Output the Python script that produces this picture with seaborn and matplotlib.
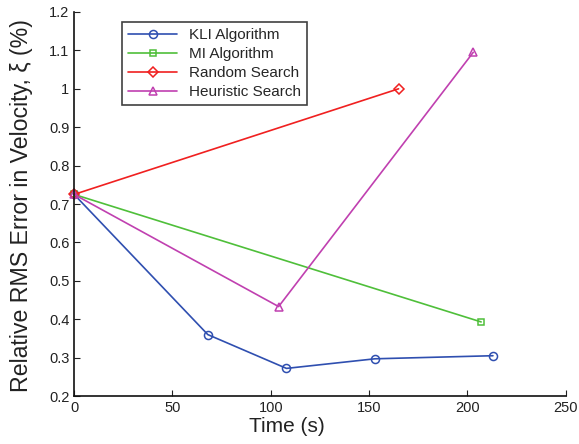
import pandas as pd
import matplotlib.pyplot as plt
import seaborn as sns

# Series values
kli_time = [0, 68, 108, 153, 213]
kli_err = [0.725, 0.36, 0.272, 0.297, 0.305]
mi_time = [0, 207]
mi_err = [0.725, 0.393]
rand_time = [0, 165]
rand_err = [0.725, 1.0]
heur_time = [0, 104, 203]
heur_err = [0.725, 0.433, 1.095]

series = [
    ("KLI Algorithm", kli_time, kli_err, "#2f4fb0", "o", 5.8),
    ("MI Algorithm", mi_time, mi_err, "#4fbf3a", "s", 4.6),
    ("Random Search", rand_time, rand_err, "#f02020", "D", 4.6),
    ("Heuristic Search", heur_time, heur_err, "#c040b0", "^", 6.2),
]

sns.set_style("ticks")
plt.rcParams['font.family'] = ['Liberation Sans', 'DejaVu Sans']

fig, ax = plt.subplots(figsize=(5.79, 4.44), dpi=100)
fig.subplots_adjust(left=0.128, right=0.977, top=0.973, bottom=0.108)

for name, t, e, color, mk, ms in series:
    df = pd.DataFrame({"Time": t, "Err": e})
    sns.lineplot(data=df, x="Time", y="Err", ax=ax, color=color, marker=mk,
                 markersize=ms, markerfacecolor="none",
                 markeredgecolor=color, markeredgewidth=1.1, linewidth=1.2,
                 label=name, sort=False, clip_on=False)

ax.set_xlim(0, 250)
ax.set_ylim(0.2, 1.2)
ax.set_xticks([0, 50, 100, 150, 200, 250])
ax.set_yticks([0.2, 0.3, 0.4, 0.5, 0.6, 0.7, 0.8, 0.9, 1.0, 1.1, 1.2])
ax.set_yticklabels(["0.2", "0.3", "0.4", "0.5", "0.6", "0.7", "0.8", "0.9", "1", "1.1", "1.2"])
ax.tick_params(direction="in", labelsize=10.5, length=4, color="#222222", labelcolor="#222222")
ax.set_xlabel("Time (s)", fontsize=15, color="#222222")
ax.set_ylabel("Relative RMS Error in Velocity, ξ (%)", fontsize=16.7, color="#222222")
ax.xaxis.set_label_coords(0.433, -0.055)
ax.yaxis.set_label_coords(-0.083, 0.497)
sns.despine(ax=ax)
for s in ["left", "bottom"]:
    ax.spines[s].set_linewidth(1.2)
    ax.spines[s].set_color("#111111")

leg = ax.legend(loc="upper left", bbox_to_anchor=(0.0976, 0.974), borderaxespad=0,
                fontsize=11, frameon=True, fancybox=False, edgecolor="#111111",
                handlelength=3.2, borderpad=0.4, labelspacing=0.33)
leg.get_frame().set_linewidth(1.2)

plt.savefig("out.png", dpi=100)
